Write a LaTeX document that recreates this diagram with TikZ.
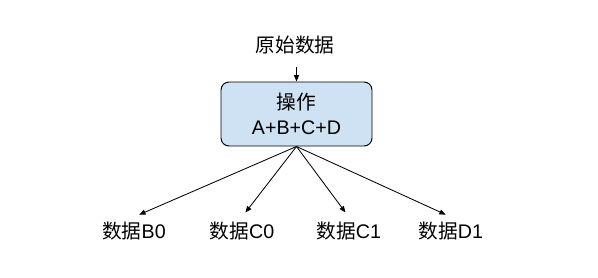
\documentclass[tikz,border=0pt]{standalone}
\usepackage{fontspec}
\setmainfont{Liberation Sans}
\newfontfamily\cjk{Noto Sans CJK SC}
\usetikzlibrary{arrows.meta, positioning}
\newcommand{\zh}[1]{{\cjk #1}}
\definecolor{opblue}{RGB}{207, 226, 243}
\tikzset{
  txt/.style   = {font=\fontsize{14}{17.8}\selectfont, align=center},
  opbox/.style = {rectangle, rounded corners=0.2cm, draw=black, fill=opblue, line width=0.7pt,
                  minimum width=3.775cm, minimum height=1.6cm, align=center, font=\fontsize{14}{17.8}\selectfont},
  flow/.style  = {-{Triangle[length=4.5pt, width=3.6pt]}, line width=0.6pt, black},
}
\begin{document}
\begin{tikzpicture}
  \useasboundingbox (0,0) rectangle (14.95,6.925);

  \node[txt] (src) at (7.375,5.8) {\zh{原始数据}};
  \node[opbox] (op) at (7.4125,4.075) {\zh{操作}\\A+B+C+D};

  \node[txt] (b0) at (3.35,1.15) {\zh{数据}B0};
  \node[txt] (c0) at (6.05,1.15) {\zh{数据}C0};
  \node[txt] (c1) at (8.72,1.15) {\zh{数据}C1};
  \node[txt] (d1) at (11.27,1.15) {\zh{数据}D1};

  \draw[flow, shorten <=0.2cm] (src.south -| op.north) -- (op.north);
  \foreach \t in {b0, c0, c1, d1}
    \draw[flow, shorten >=0.14cm] (op.south) -- (\t.north);
\end{tikzpicture}
\end{document}
